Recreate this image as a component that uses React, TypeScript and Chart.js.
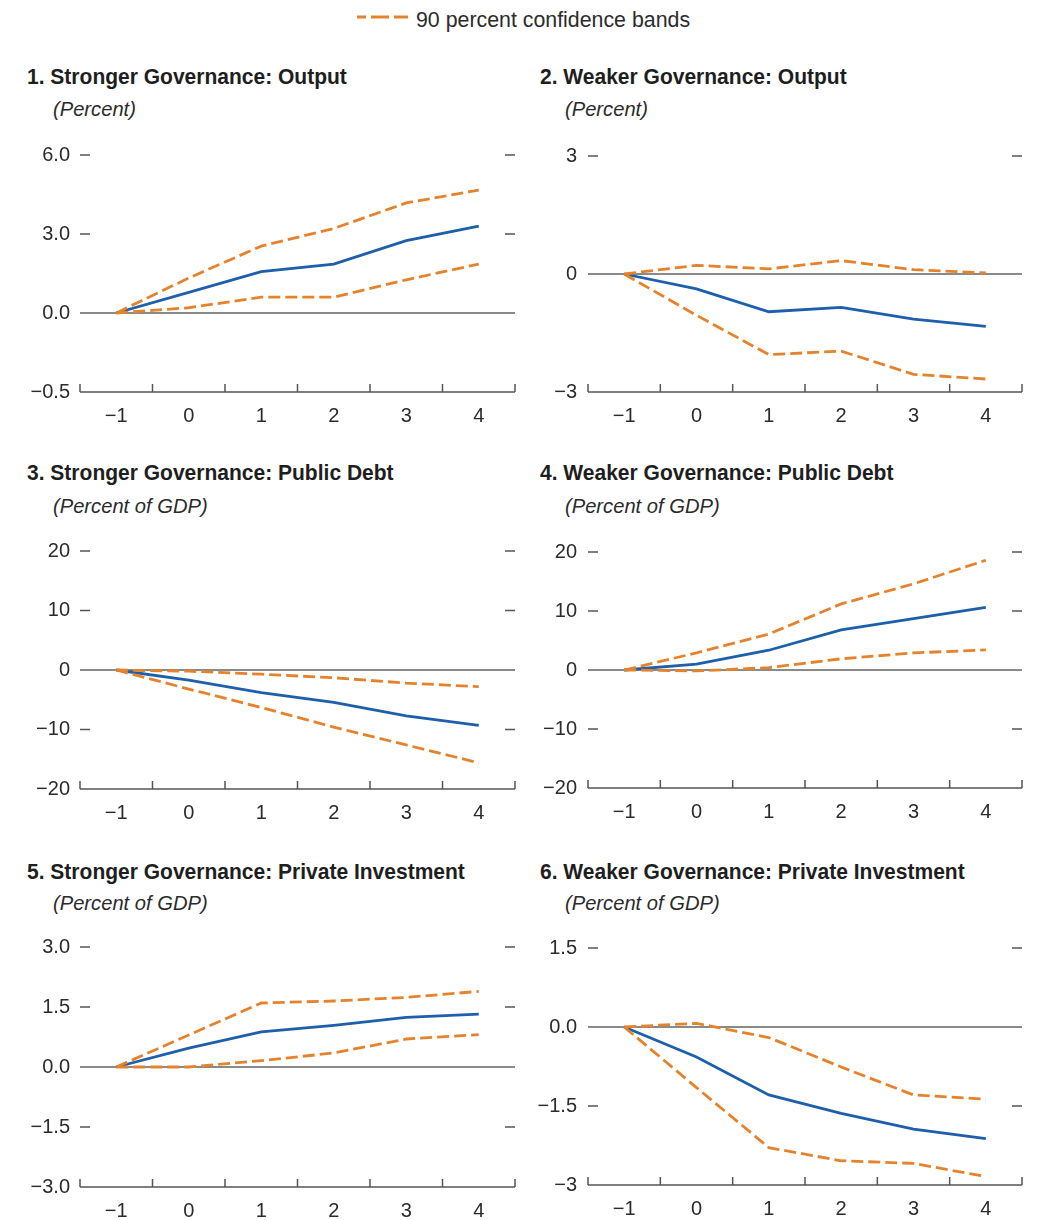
import React, { useEffect, useRef } from "react";
import { Chart, registerables } from "chart.js";

Chart.register(...registerables);

// ---------- data ----------
const xCategories = ["−1", "0", "1", "2", "3", "4"];

// 1. Stronger Governance: Output
const p1Central = [0, 0.78, 1.57, 1.86, 2.75, 3.3];
const p1Upper = [0, 1.33, 2.54, 3.21, 4.18, 4.67];
const p1Lower = [0, 0.2, 0.6, 0.6, 1.26, 1.86];
const p1TickValues = [-3, 0, 3, 6];
const p1TickLabels = ["−0.5", "0.0", "3.0", "6.0"];

// 2. Weaker Governance: Output
const p2Central = [0, -0.38, -0.96, -0.85, -1.15, -1.33];
const p2Upper = [0, 0.22, 0.13, 0.34, 0.11, 0.03];
const p2Lower = [0, -1.05, -2.05, -1.96, -2.55, -2.67];
const p2TickValues = [-3, 0, 3];
const p2TickLabels = ["−3", "0", "3"];

// 3. Stronger Governance: Public Debt
const p3Central = [0, -1.7, -3.8, -5.45, -7.7, -9.3];
const p3Upper = [0, -0.2, -0.7, -1.3, -2.2, -2.8];
const p3Lower = [0, -3.2, -6.3, -9.6, -12.6, -15.6];
const p3TickValues = [-20, -10, 0, 10, 20];
const p3TickLabels = ["−20", "−10", "0", "10", "20"];

// 4. Weaker Governance: Public Debt
const p4Central = [0, 1.0, 3.35, 6.8, 8.7, 10.6];
const p4Upper = [0, 2.9, 6.1, 11.2, 14.6, 18.6];
const p4Lower = [0, -0.15, 0.4, 1.9, 2.9, 3.4];
const p4TickValues = [-20, -10, 0, 10, 20];
const p4TickLabels = ["−20", "−10", "0", "10", "20"];

// 5. Stronger Governance: Private Investment
const p5Central = [0, 0.47, 0.88, 1.04, 1.24, 1.32];
const p5Upper = [0, 0.8, 1.6, 1.65, 1.74, 1.89];
const p5Lower = [0, 0.0, 0.16, 0.35, 0.7, 0.81];
const p5TickValues = [-3, -1.5, 0, 1.5, 3];
const p5TickLabels = ["−3.0", "−1.5", "0.0", "1.5", "3.0"];

// 6. Weaker Governance: Private Investment
const p6Central = [0, -0.57, -1.29, -1.64, -1.94, -2.12];
const p6Upper = [0, 0.07, -0.2, -0.76, -1.29, -1.37];
const p6Lower = [0, -1.15, -2.29, -2.54, -2.59, -2.84];
const p6TickValues = [-3, -1.5, 0, 1.5];
const p6TickLabels = ["−3", "−1.5", "0.0", "1.5"];

const legendLabel = "90 percent confidence bands";

// ---------- styles ----------
const BLUE = "#1d5fab";
const ORANGE = "#e5832d";
const FONT = "'Liberation Sans', Arial, Helvetica, sans-serif";
const TEXT = "#2b2b2b";
const X_AXIS_HEIGHT = 40;
const PAD_TOP = 18;
const PAD_BOTTOM = 5;

type PanelCfg = {
  title: string;
  subtitle: string;
  central: number[];
  upper: number[];
  lower: number[];
  tickValues: number[];
  tickLabels: string[];
  x: number;
  w: number;
  plotTop: number;
  plotBottom: number;
  padRight: number;
  yAxisWidth: number;
  yPad: number;
  titleX: number;
  subX: number;
  titleBase: number;
  subBase: number;
};

const panels: PanelCfg[] = [
  {
    title: "1. Stronger Governance: Output", subtitle: "(Percent)",
    central: p1Central, upper: p1Upper, lower: p1Lower,
    tickValues: p1TickValues, tickLabels: p1TickLabels,
    x: 0, w: 520, plotTop: 153, plotBottom: 392, padRight: 5, yAxisWidth: 80, yPad: 10,
    titleX: 27, subX: 53, titleBase: 85, subBase: 116,
  },
  {
    title: "2. Weaker Governance: Output", subtitle: "(Percent)",
    central: p2Central, upper: p2Upper, lower: p2Lower,
    tickValues: p2TickValues, tickLabels: p2TickLabels,
    x: 520, w: 518, plotTop: 153, plotBottom: 392, padRight: 16, yAxisWidth: 68, yPad: 11,
    titleX: 540, subX: 565, titleBase: 85, subBase: 116,
  },
  {
    title: "3. Stronger Governance: Public Debt", subtitle: "(Percent of GDP)",
    central: p3Central, upper: p3Upper, lower: p3Lower,
    tickValues: p3TickValues, tickLabels: p3TickLabels,
    x: 0, w: 520, plotTop: 549, plotBottom: 789, padRight: 5, yAxisWidth: 80, yPad: 10,
    titleX: 27, subX: 53, titleBase: 481, subBase: 513,
  },
  {
    title: "4. Weaker Governance: Public Debt", subtitle: "(Percent of GDP)",
    central: p4Central, upper: p4Upper, lower: p4Lower,
    tickValues: p4TickValues, tickLabels: p4TickLabels,
    x: 520, w: 518, plotTop: 549, plotBottom: 788, padRight: 16, yAxisWidth: 68, yPad: 11,
    titleX: 540, subX: 565, titleBase: 481, subBase: 513,
  },
  {
    title: "5. Stronger Governance: Private Investment", subtitle: "(Percent of GDP)",
    central: p5Central, upper: p5Upper, lower: p5Lower,
    tickValues: p5TickValues, tickLabels: p5TickLabels,
    x: 0, w: 520, plotTop: 945, plotBottom: 1187, padRight: 5, yAxisWidth: 80, yPad: 10,
    titleX: 27, subX: 53, titleBase: 880, subBase: 910,
  },
  {
    title: "6. Weaker Governance: Private Investment", subtitle: "(Percent of GDP)",
    central: p6Central, upper: p6Upper, lower: p6Lower,
    tickValues: p6TickValues, tickLabels: p6TickLabels,
    x: 520, w: 518, plotTop: 945, plotBottom: 1185, padRight: 16, yAxisWidth: 68, yPad: 11,
    titleX: 540, subX: 565, titleBase: 880, subBase: 910,
  },
];

// draws zero line, bottom axis with upward boundary ticks, and inner y ticks on both sides
const axesPlugin = {
  id: "imfAxes",
  beforeDatasetsDraw(chart: any) {
    const { ctx, chartArea } = chart;
    const { left, right, bottom } = chartArea;
    const xs = chart.scales.x;
    const ys = chart.scales.y;
    const seg = (x1: number, y1: number, x2: number, y2: number) => {
      ctx.beginPath();
      ctx.moveTo(x1, y1);
      ctx.lineTo(x2, y2);
      ctx.stroke();
    };
    ctx.save();
    const y0 = ys.getPixelForValue(0);
    ctx.strokeStyle = "#8a8a8a";
    ctx.lineWidth = 2.2;
    seg(left, y0, right, y0);
    ctx.strokeStyle = "#555555";
    ctx.lineWidth = 1.5;
    seg(left, bottom, right, bottom);
    const n = xs.ticks.length;
    const bounds: number[] = [left];
    for (let i = 1; i < n; i++) {
      bounds.push((xs.getPixelForTick(i - 1) + xs.getPixelForTick(i)) / 2);
    }
    bounds.push(right);
    bounds.forEach((bx) => seg(bx, bottom, bx, bottom - 8));
    ys.ticks.forEach((t: any) => {
      if (t.value === ys.min || t.value === 0) return;
      const py = ys.getPixelForValue(t.value);
      seg(left, py, left + 10, py);
      seg(right - 10, py, right, py);
    });
    ctx.restore();
  },
};

function Panel({ cfg }: { cfg: PanelCfg }) {
  const ref = useRef<HTMLCanvasElement | null>(null);
  const canvasTop = cfg.plotTop - PAD_TOP - 2;
  const canvasH = cfg.plotBottom - canvasTop + X_AXIS_HEIGHT + PAD_BOTTOM;
  useEffect(() => {
    if (!ref.current) return;
    const tickValues = cfg.tickValues;
    const tickLabels = cfg.tickLabels;
    const bandStyle = {
      borderColor: ORANGE,
      borderWidth: 2.8,
      borderDash: [12, 5],
      pointRadius: 0,
      tension: 0,
      fill: false,
    };
    const chart = new Chart(ref.current, {
      type: "line",
      data: {
        labels: xCategories,
        datasets: [
          { label: "Upper", data: cfg.upper, ...bandStyle },
          { label: "Lower", data: cfg.lower, ...bandStyle },
          {
            label: "Estimate",
            data: cfg.central,
            borderColor: BLUE,
            borderWidth: 2.8,
            pointRadius: 0,
            tension: 0,
            fill: false,
          },
        ],
      },
      options: {
        animation: false,
        responsive: false,
        maintainAspectRatio: false,
        devicePixelRatio: 1,
        layout: { padding: { top: PAD_TOP, right: cfg.padRight, bottom: PAD_BOTTOM, left: 0 } },
        plugins: {
          legend: { display: false },
          tooltip: { enabled: false },
          title: { display: false },
        },
        scales: {
          x: {
            type: "category",
            offset: true,
            grid: { display: false, drawTicks: false },
            border: { display: false },
            afterFit: (scale: any) => {
              scale.height = X_AXIS_HEIGHT;
            },
            ticks: {
              padding: 12,
              maxRotation: 0,
              autoSkip: false,
              color: TEXT,
              font: { family: FONT, size: 20 },
            },
          },
          y: {
            type: "linear",
            min: tickValues[0],
            max: tickValues[tickValues.length - 1],
            grid: { display: false, drawTicks: false },
            border: { display: false },
            afterBuildTicks: (scale: any) => {
              scale.ticks = tickValues.map((v) => ({ value: v }));
            },
            afterFit: (scale: any) => {
              scale.width = cfg.yAxisWidth;
            },
            ticks: {
              padding: cfg.yPad,
              color: TEXT,
              font: { family: FONT, size: 20 },
              callback: (value: any) => {
                const i = tickValues.indexOf(Number(value));
                return i >= 0 ? tickLabels[i] : "";
              },
            },
          },
        },
      },
      plugins: [axesPlugin],
    } as any);
    return () => chart.destroy();
  }, [cfg]);

  const titleSize = 22;
  const subSize = 21;
  return (
    <>
      <div
        style={{
          position: "absolute",
          left: cfg.titleX,
          top: cfg.titleBase - 0.8465 * titleSize,
          fontFamily: FONT,
          fontWeight: "bold",
          fontSize: titleSize,
          lineHeight: `${titleSize}px`,
          whiteSpace: "nowrap",
          color: "#1e1e1e",
          transform: "scaleX(0.955)",
          transformOrigin: "left top",
        }}
      >
        {cfg.title}
      </div>
      <div
        style={{
          position: "absolute",
          left: cfg.subX,
          top: cfg.subBase - 0.8465 * subSize,
          fontFamily: FONT,
          fontStyle: "italic",
          fontSize: subSize,
          lineHeight: `${subSize}px`,
          whiteSpace: "nowrap",
          color: TEXT,
          transform: "scaleX(0.96)",
          transformOrigin: "left top",
        }}
      >
        {cfg.subtitle}
      </div>
      <canvas
        ref={ref}
        width={cfg.w}
        height={canvasH}
        style={{ position: "absolute", left: cfg.x, top: canvasTop, width: cfg.w, height: canvasH }}
      />
    </>
  );
}

export default function App() {
  const legendSize = 22;
  return (
    <div
      style={{
        position: "absolute",
        left: 0,
        top: 0,
        width: 1038,
        height: 1220,
        overflow: "hidden",
        background: "#ffffff",
      }}
    >
      <svg width={60} height={10} style={{ position: "absolute", left: 355, top: 12 }}>
        <line
          x1={2}
          y1={5}
          x2={54}
          y2={5}
          stroke={ORANGE}
          strokeWidth={2.8}
          strokeDasharray="9 5 18 5 14"
        />
      </svg>
      <div
        style={{
          position: "absolute",
          left: 416,
          top: 28 - 0.8465 * legendSize,
          fontFamily: FONT,
          fontSize: legendSize,
          lineHeight: `${legendSize}px`,
          whiteSpace: "nowrap",
          color: TEXT,
          transform: "scaleX(0.97)",
          transformOrigin: "left top",
        }}
      >
        {legendLabel}
      </div>
      {panels.map((p, i) => (
        <Panel key={i} cfg={p} />
      ))}
    </div>
  );
}
